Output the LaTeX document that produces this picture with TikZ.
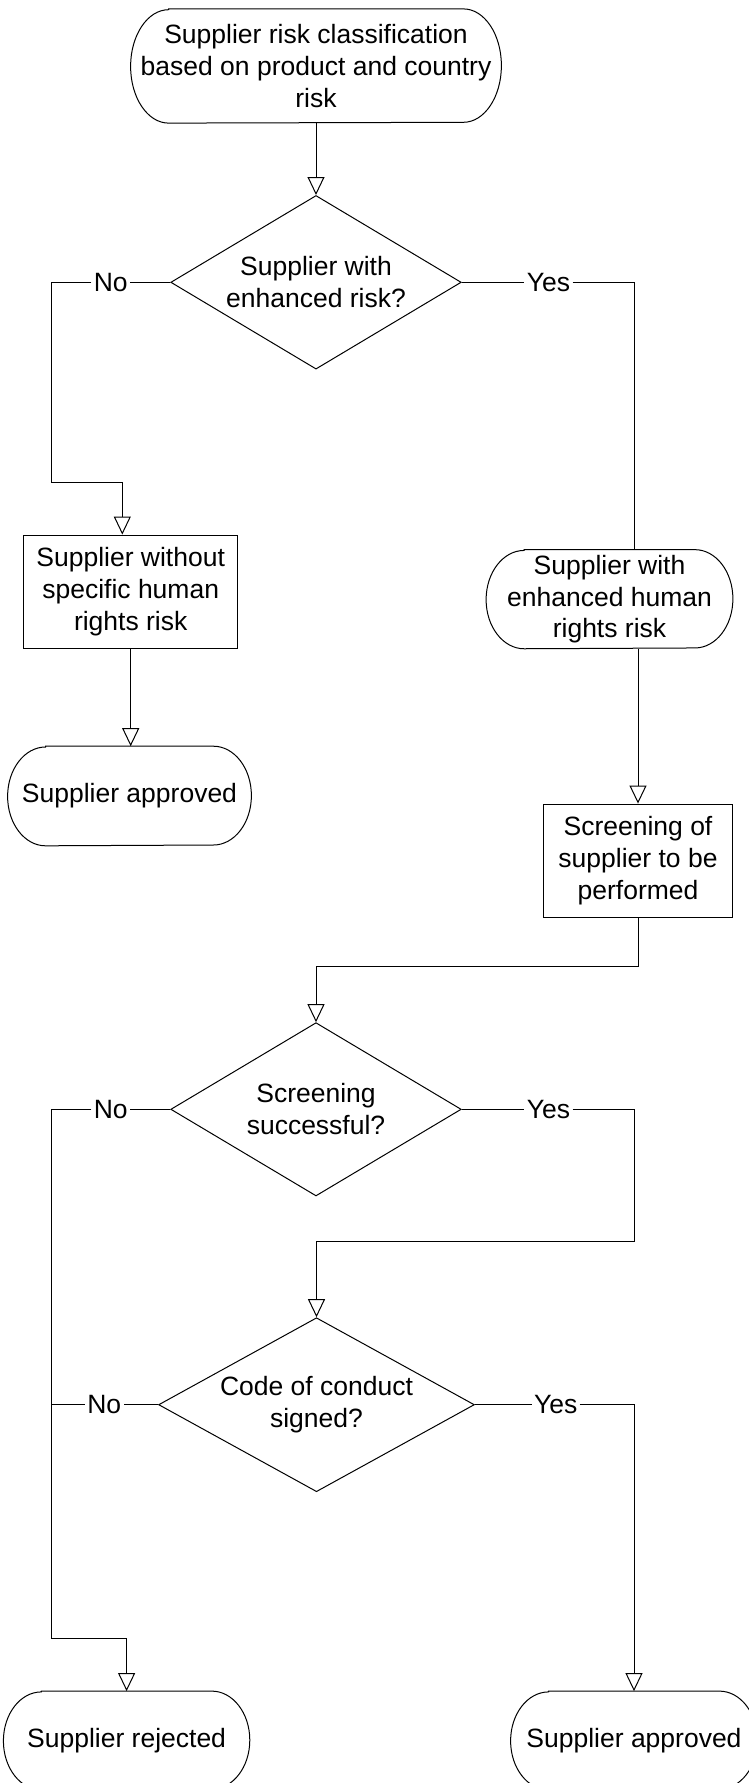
\documentclass[tikz,border=0pt]{standalone}
\usepackage{fontspec}
\setmainfont{Liberation Sans}
\usetikzlibrary{arrows.meta,shapes.geometric}
\newcommand\termoutline[3]{%
  \draw[line] ([xshift=#2]#1.north west) -- ([xshift=-#2]#1.north east)
    arc[start angle=90,end angle=-90,x radius=#2,y radius=#3]
    -- ([xshift=#2]#1.south west)
    arc[start angle=270,end angle=90,x radius=#2,y radius=#3] -- cycle;}
\begin{document}
\begin{tikzpicture}[x=0.5pt,y=-0.5pt,
  every node/.style={font=\fontsize{13.25}{15.9}\selectfont},
  line/.style={draw=black,line width=0.5pt},
  arr/.style={line,-{Triangle[width=8.5pt,length=9pt,fill=white]}},
  termbox/.style={rectangle,draw=none,inner sep=0pt,align=center},
  procbox/.style={rectangle,line,inner sep=0pt,align=center},
  decision/.style={diamond,line,inner sep=0pt,aspect=1.67},
  dtext/.style={inner sep=0pt,align=center},
  lbl/.style={fill=white,inner sep=1pt}]
\clip (0,0) rectangle (749,1783);
\useasboundingbox (0,0) rectangle (749,1783);

% nodes
\node[termbox,minimum width=185pt,minimum height=56.7pt] (start) at (316,66)
  {Supplier risk classification\\based on product and country\\risk};
\termoutline{start}{19pt}{28.35pt}

\node[decision,minimum width=145.25pt,minimum height=86.8pt] (d1) at (316,282.3) {};
\node[dtext] (d1t) at (d1.center) {Supplier with\\enhanced risk?};

\node[procbox,minimum width=106.75pt,minimum height=56.65pt] (box1) at (130.7,591.7)
  {Supplier without\\specific human\\rights risk};

\node[termbox,minimum width=121.5pt,minimum height=49.4pt] (app1) at (129.5,796)
  {Supplier approved};
\termoutline{app1}{19pt}{24.7pt}

\node[termbox,minimum width=123pt,minimum height=49.15pt] (term2) at (609.5,599.2)
  {Supplier with\\enhanced human\\rights risk};
\termoutline{term2}{19pt}{24.575pt}

\node[procbox,minimum width=94.4pt,minimum height=56.65pt] (box2) at (638,860.7)
  {Screening of\\supplier to be\\performed};

\node[decision,minimum width=145.25pt,minimum height=86.65pt] (d2) at (316,1109.3) {};
\node[dtext] (d2t) at (d2.center) {Screening\\successful?};

\node[decision,minimum width=157.9pt,minimum height=87pt,aspect=1.8] (d3) at (316.5,1404.7) {};
\node[dtext] (d3t) at (d3.center) {Code of conduct\\signed?};

\node[termbox,minimum width=122.8pt,minimum height=49pt] (rej) at (126.6,1740.5)
  {Supplier rejected};
\termoutline{rej}{19pt}{24.5pt}

\node[termbox,minimum width=123pt,minimum height=49pt] (app2) at (634,1740.5)
  {Supplier approved};
\termoutline{app2}{19pt}{24.5pt}

% labels
\node[lbl] (no1) at (110.8,282.3) {No};
\node[lbl] (yes1) at (548.5,282.3) {Yes};
\node[lbl] (no2) at (110.8,1109.3) {No};
\node[lbl] (yes2) at (548.5,1109.3) {Yes};
\node[lbl] (no3) at (104.2,1404.7) {No};
\node[lbl] (yes3) at (555.7,1404.7) {Yes};

% bend points
\coordinate (k1) at (51,482.3);
\coordinate (k1b) at (122.3,482.3);
\coordinate (k3) at (316,966);
\coordinate (k4) at (51,1638.3);
\coordinate (k5) at (634,1241.7);

% connectors
\draw[arr] (start.south) -- (d1.north);
\draw[line] (d1.west) -- (no1.east);
\draw[arr] (no1.west) -| (k1) -- (k1b) -- (k1b |- box1.north);
\draw[line] (d1.east) -- (yes1.west);
\draw[line] (yes1.east) -| ([xshift=12.5pt]term2.north);
\draw[arr] (box1.south) -- (box1.south |- app1.north);
\draw[arr] (term2.south -| box2.north) -- (box2.north);
\draw[arr] (box2.south) |- (k3) -- (d2.north);
\draw[line] (d2.west) -- (no2.east);
\draw[arr] (no2.west) -| (k4) -| (rej.north);
\draw[line] (d2.east) -- (yes2.west);
\draw[arr] (yes2.east) -| (k5) -| (d3.north);
\draw[line] (d3.west) -- (no3.east);
\draw[line] (no3.west) -- (no3.west -| k4);
\draw[line] (d3.east) -- (yes3.west);
\draw[arr] (yes3.east) -| (app2.north);
\end{tikzpicture}
\end{document}
